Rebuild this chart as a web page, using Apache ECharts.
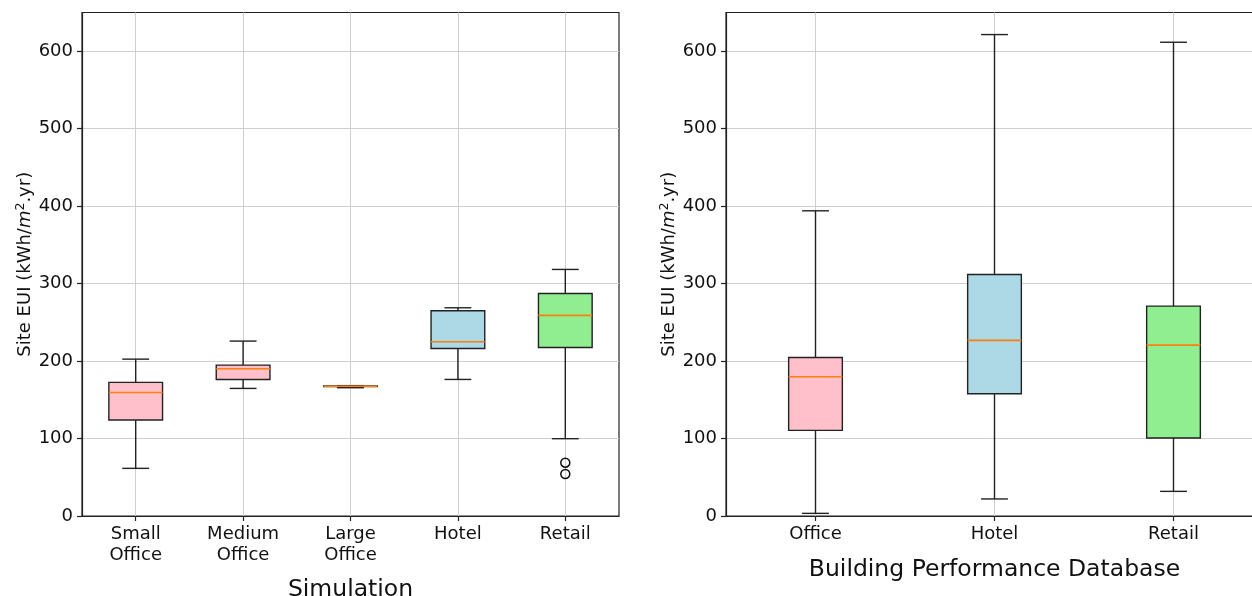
<!DOCTYPE html>
<html>
<head>
<meta charset="utf-8">
<title>Site EUI – Simulation vs Building Performance Database</title>
<script src="https://cdn.jsdelivr.net/npm/echarts@6/dist/echarts.min.js"></script>
<style>
  html, body { margin: 0; padding: 0; background: #ffffff; }
  #chart { width: 1252px; height: 596px; }
</style>
</head>
<body>
<div id="chart"></div>
<script>
// ---- Simulation results (left panel) ----
const simCategories = ['Small\nOffice', 'Medium\nOffice', 'Large\nOffice', 'Hotel', 'Retail'];
const simLow    = [61.5, 164.7, 165.6, 176.3, 99.8];
const simQ1     = [124.0, 176.3, 167.0, 216.3, 217.6];
const simMedian = [159.5, 190.0, 167.5, 225.0, 259.0];
const simQ3     = [172.5, 194.8, 168.0, 265.0, 287.3];
const simHigh   = [202.5, 225.8, 168.3, 268.8, 318.3];
const simColors = ['#ffc0cb', '#ffc0cb', '#ffc0cb', '#add8e6', '#90ee90'];
// outliers: [category index, value]
const simOutliers = [[4, 68.8], [4, 54.2]];

// ---- Building Performance Database (right panel) ----
const bpdCategories = ['Office', 'Hotel', 'Retail'];
const bpdLow    = [3.4, 22.0, 31.8];
const bpdQ1     = [110.5, 157.8, 100.6];
const bpdMedian = [179.8, 226.7, 220.6];
const bpdQ3     = [204.7, 311.8, 271.0];
const bpdHigh   = [394.0, 621.5, 611.6];
const bpdColors = ['#ffc0cb', '#add8e6', '#90ee90'];

// shared y scale
const yMin = 0, yMax = 650, yStep = 100;
const yTicks = [0, 100, 200, 300, 400, 500, 600];

const FONT = 'DejaVu Sans';
const INK = '#111111';
const EDGE = '#222222';
const MEDIAN = '#ff7f0e';
const GRIDLINE = '#cfcfcf';

function boxRows(low, q1, med, q3, high) {
  return low.map((v, i) => [i, v, q1[i], med[i], q3[i], high[i]]);
}

// box-and-whisker renderer: box width is a fraction of the category band,
// whisker caps are half the box width
function boxRenderer(widthRatio, colors) {
  return function (params, api) {
    const i = api.value(0);
    const lo = api.coord([i, api.value(1)]);
    const q1 = api.coord([i, api.value(2)]);
    const md = api.coord([i, api.value(3)]);
    const q3 = api.coord([i, api.value(4)]);
    const hi = api.coord([i, api.value(5)]);
    const band = api.size([1, 0])[0];
    const w = band * widthRatio;
    const cx = lo[0];
    const x0 = cx - w / 2, x1 = cx + w / 2;
    const cap = w / 4;
    const lineStyle = { stroke: EDGE, lineWidth: 1.4, fill: null };
    return {
      type: 'group',
      children: [
        { type: 'line', shape: { x1: cx, y1: q1[1], x2: cx, y2: lo[1] }, style: lineStyle },
        { type: 'line', shape: { x1: cx, y1: q3[1], x2: cx, y2: hi[1] }, style: lineStyle },
        { type: 'line', shape: { x1: cx - cap, y1: lo[1], x2: cx + cap, y2: lo[1] }, style: lineStyle },
        { type: 'line', shape: { x1: cx - cap, y1: hi[1], x2: cx + cap, y2: hi[1] }, style: lineStyle },
        {
          type: 'rect',
          shape: { x: x0, y: q3[1], width: w, height: q1[1] - q3[1] },
          style: { fill: colors[params.dataIndex], stroke: EDGE, lineWidth: 1.4 }
        },
        { type: 'line', shape: { x1: x0, y1: md[1], x2: x1, y2: md[1] }, style: { stroke: MEDIAN, lineWidth: 1.6 } }
      ]
    };
  };
}

const yAxisName = 'Site EUI (kWh/{i|m}{s|2}.yr)';

function makeYAxis(gridIndex) {
  return {
    type: 'value',
    gridIndex: gridIndex,
    min: yMin, max: yMax, interval: yStep,
    name: yAxisName,
    nameLocation: 'middle',
    nameGap: 46,
    nameRotate: 90,
    nameTextStyle: {
      fontFamily: FONT, fontSize: 18, color: INK,
      rich: {
        i: { fontFamily: FONT, fontSize: 18, fontStyle: 'italic', color: INK },
        s: { fontFamily: FONT, fontSize: 12.5, color: INK, verticalAlign: 'top', padding: [0, 0, 9, 0] }
      }
    },
    axisLine: { show: true, lineStyle: { color: EDGE, width: 1.2 } },
    axisTick: { show: true, length: 5, lineStyle: { color: EDGE, width: 1.2 }, customValues: yTicks },
    axisLabel: { fontFamily: FONT, fontSize: 18, color: INK, margin: 9, customValues: yTicks },
    splitLine: { show: true, lineStyle: { color: GRIDLINE, width: 1 } }
  };
}

function makeXAxis(gridIndex, cats, title, gap) {
  return {
    type: 'category',
    gridIndex: gridIndex,
    data: cats,
    name: title,
    nameLocation: 'middle',
    nameGap: gap,
    nameTextStyle: { fontFamily: FONT, fontSize: 23.5, color: INK },
    axisLine: { show: true, lineStyle: { color: EDGE, width: 1.2 } },
    axisTick: { show: true, alignWithLabel: true, length: 5, lineStyle: { color: EDGE, width: 1.2 } },
    axisLabel: { fontFamily: FONT, fontSize: 18, lineHeight: 21, color: INK, margin: 8, interval: 0 },
    splitLine: { show: true, alignWithLabel: true, lineStyle: { color: GRIDLINE, width: 1 } }
  };
}

const chart = echarts.init(document.getElementById('chart'), null, { renderer: 'canvas' });

const gridBase = {
  top: 12.5, width: 537, height: 503.5, show: true,
  borderColor: EDGE, borderWidth: 1.2,
  containLabel: false, outerBoundsMode: 'none'
};

chart.setOption({
  animation: false,
  backgroundColor: '#ffffff',
  textStyle: { fontFamily: FONT },
  grid: [
    Object.assign({ left: 82 }, gridBase),
    Object.assign({ left: 726 }, gridBase)
  ],
  xAxis: [
    makeXAxis(0, simCategories, 'Simulation', 62),
    makeXAxis(1, bpdCategories, 'Building Performance Database', 42)
  ],
  yAxis: [makeYAxis(0), makeYAxis(1)],
  series: [
    {
      name: 'Simulation',
      type: 'custom',
      xAxisIndex: 0, yAxisIndex: 0,
      renderItem: boxRenderer(0.5, simColors),
      encode: { x: 0, y: [1, 2, 3, 4, 5] },
      data: boxRows(simLow, simQ1, simMedian, simQ3, simHigh),
      z: 3
    },
    {
      name: 'Simulation outliers',
      type: 'scatter',
      xAxisIndex: 0, yAxisIndex: 0,
      symbol: 'circle',
      symbolSize: 9,
      itemStyle: { color: 'rgba(0,0,0,0)', borderColor: '#111111', borderWidth: 1.5, opacity: 1 },
      data: simOutliers,
      z: 4
    },
    {
      name: 'Building Performance Database',
      type: 'custom',
      xAxisIndex: 1, yAxisIndex: 1,
      renderItem: boxRenderer(0.3, bpdColors),
      encode: { x: 0, y: [1, 2, 3, 4, 5] },
      data: boxRows(bpdLow, bpdQ1, bpdMedian, bpdQ3, bpdHigh),
      z: 3
    }
  ]
});
</script>
</body>
</html>
